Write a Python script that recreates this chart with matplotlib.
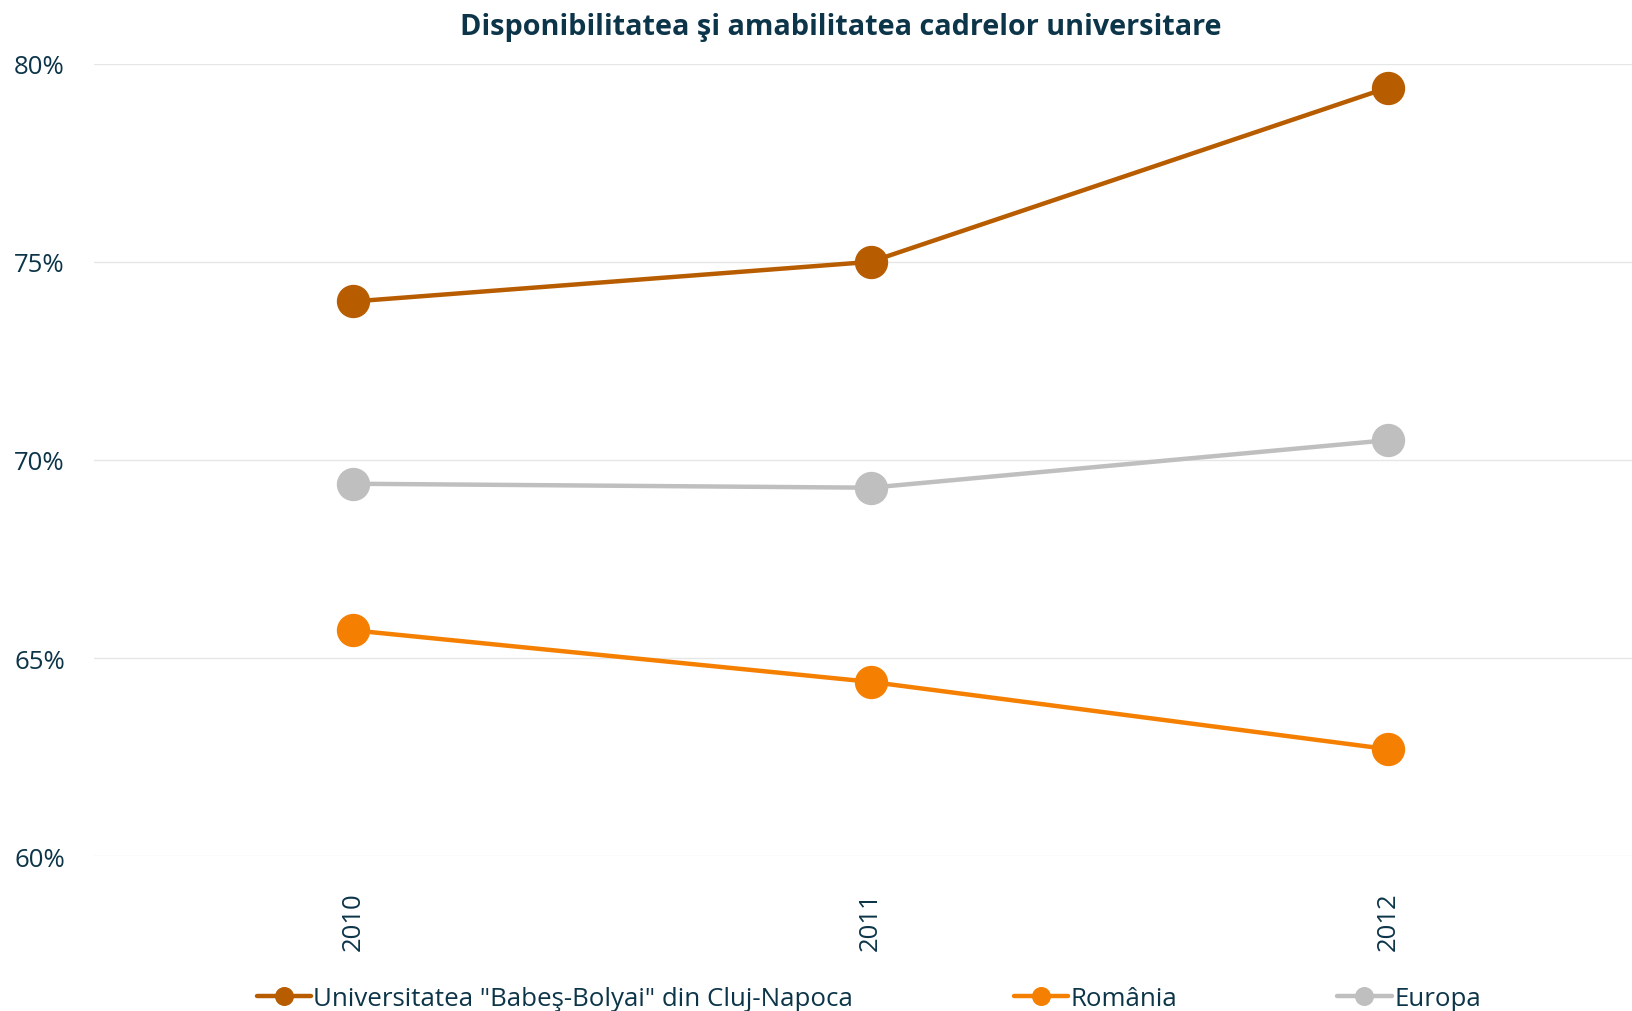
import numpy as np
import matplotlib
matplotlib.use('Agg')
import matplotlib.pyplot as plt
from matplotlib.ticker import FuncFormatter

# date
ani = ['2010', '2011', '2012']
ubb = [74.0, 75.0, 79.4]
romania = [65.7, 64.4, 62.7]
europa = [69.4, 69.3, 70.5]
serii = ['Universitatea "Babeş-Bolyai" din Cluj-Napoca', 'România', 'Europa']
culori = ['#B85C00', '#F57F00', '#BFBFBF']
text_col = '#0D3549'

plt.rcParams['font.family'] = ['Open Sans', 'DejaVu Sans']

fig = plt.figure(figsize=(16.33, 10.12), dpi=100)
ax = fig.add_axes([0.0576, 0.153, 0.951, 0.783])

x = np.arange(len(ani))
for vals, lab, c in zip([ubb, romania, europa], serii, culori):
    ax.plot(x, vals, color=c, linewidth=3.2, marker='o', markersize=23,
            label=lab, solid_capstyle='round')

ax.set_xlim(-0.5, 2.5)
ax.set_ylim(60, 80)
ax.set_yticks([60, 65, 70, 75, 80])
ax.yaxis.set_major_formatter(FuncFormatter(lambda v, p: '%d%%' % v))
ax.set_xticks(x)
ax.set_xticklabels(ani, rotation=90)
ax.grid(axis='y', color='#E6E6E6', linewidth=1)
ax.set_axisbelow(True)
for s in ax.spines.values():
    s.set_visible(False)
ax.tick_params(axis='both', length=0, labelsize=18.5, colors=text_col)
ax.tick_params(axis='x', pad=25)
ax.tick_params(axis='y', pad=21)

fig.text(0.515, 0.973, 'Disponibilitatea şi amabilitatea cadrelor universitare',
         ha='center', va='center', fontsize=20.8, fontweight='bold', color=text_col)

leg = fig.legend(loc='center', bbox_to_anchor=(0.532, 0.012), ncol=3, frameon=False,
                 fontsize=18.6, handlelength=2.1, handletextpad=0.1, columnspacing=6.2,
                 markerscale=0.55)
for t in leg.get_texts():
    t.set_color(text_col)

fig.savefig('out.png', dpi=100)
